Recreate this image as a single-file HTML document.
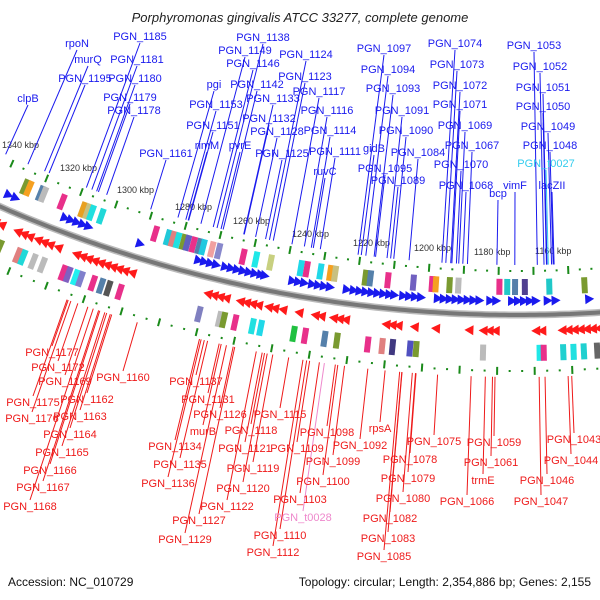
<!DOCTYPE html>
<html><head><meta charset="utf-8"><style>
html,body{margin:0;padding:0;background:#fff;}
svg{display:block;font-family:"Liberation Sans",sans-serif;}
</style></head><body>
<svg id="map" width="600" height="600" viewBox="0 0 600 600" xmlns="http://www.w3.org/2000/svg">
<text x="300" y="22" text-anchor="middle" font-size="13" font-style="italic" fill="#222">Porphyromonas gingivalis ATCC 33277, complete genome</text>
<g id="arcs"></g><g id="feat"></g><g id="lines"></g><g id="labels"></g>
<text x="8" y="586" font-size="12" fill="#111">Accession: NC_010729</text>
<text x="591" y="586" font-size="12" text-anchor="end" fill="#111">Topology: circular; Length: 2,354,886 bp; Genes: 2,155</text>
</svg>
<script>
const CX=518, CY=-976, R=1291;
const tickLabels=[["1340 kbp",2,148],["1320 kbp",60,171],["1300 kbp",117,193],["1280 kbp",175,210],["1260 kbp",233,224],["1240 kbp",292,237],["1220 kbp",353,246],["1200 kbp",414,251],["1180 kbp",474,255],["1160 kbp",535,254]];
const blueArrows=[3,10,60,66,72,78,84,136,195,201,207,213,222,228,234,240,246,252,258,262,290,296,302,310,316,322,328,345,352,358,364,370,376,382,388,393,402,408,414,420,437,443,449,455,461,467,473,479,490,496,512,518,524,530,536,548,556,590];
const redArrows=[2,8,24,30,36,44,50,56,64,82,88,94,100,106,112,118,124,130,137,212,218,224,230,244,250,256,262,272,278,286,302,318,324,336,342,348,388,394,400,416,437,470,484,490,496,536,542,562,568,574,580,586,592,598];
const boxesTop=[[14,"#7a9a30"],[18,"#f5a020"],[30,"#5580aa"],[33,"#bbb"],[52,"#e8308a"],[73,"#e8a020"],[78,"#c8c080"],[82,"#20e0e0"],[92,"#20d8d8"],[147,"#e8308a"],[160,"#20c8d8"],[165,"#e08080"],[170,"#20e0e0"],[176,"#7a9a30"],[180,"#6060c0"],[186,"#e8308a"],[192,"#5580aa"],[196,"#20c8e0"],[205,"#f0a0a0"],[212,"#8888cc"],[237,"#e8308a"],[250,"#20e8e8"],[265,"#c8d080"],[296,"#20d8e8"],[302,"#e8308a"],[316,"#20d8e8"],[326,"#f5a020"],[331,"#c8c080"],[362,"#7a9a30"],[367,"#5580aa"],[385,"#e8308a"],[411,"#7060c0"],[430,"#e8308a"],[434,"#f5a020"],[448,"#7a9a30"],[457,"#bbb"],[499,"#e8308a"],[507,"#20c8c8"],[515,"#5580aa"],[525,"#504090"],[550,"#20c8c8"],[586,"#7a9a30"]];
const boxesBot=[[14,"#7a9a30"],[32,"#e08080"],[37,"#20d8d8"],[47,"#bbb"],[56,"#bbb"],[76,"#e8308a"],[81,"#8060c0"],[88,"#20f0f0"],[93,"#8080cc"],[105,"#e8308a"],[113,"#5580aa"],[120,"#555"],[131,"#e8308a"],[208,"#8080c0"],[228,"#bbb"],[232,"#7a9a30"],[243,"#e8308a"],[260,"#20e0e0"],[268,"#20d8e8"],[300,"#20c040"],[311,"#e8308a"],[330,"#5580aa"],[342,"#7a9a30"],[372,"#e8308a"],[386,"#e08080"],[396,"#403880"],[413,"#5050c0"],[419,"#7a9a30"],[484,"#bbb"],[539,"#20e8e8"],[543,"#e8308a"],[562,"#20d0d0"],[572,"#20e0e0"],[582,"#20d0d0"],[595,"#666"]];
const blueLabels=[["rpoN",77,47],["murQ",88,63],["PGN_1195",85,82],["clpB",28,102],["PGN_1185",140,40],["PGN_1181",137,63],["PGN_1180",135,82],["PGN_1179",130,101],["PGN_1178",134,114],["PGN_1161",166,157],["PGN_1149",245,54],["PGN_1146",253,67],["PGN_1138",263,41],["pgi",214,88],["PGN_1142",257,88],["PGN_1153",216,108],["PGN_1133",273,102],["PGN_1151",213,129],["PGN_1132",269,122],["rimM",207,149],["pvrE",240,149],["PGN_1128",277,135],["PGN_1125",282,157],["PGN_1124",306,58],["PGN_1123",305,80],["PGN_1117",319,95],["PGN_1116",327,114],["PGN_1114",330,134],["PGN_1111",335,155],["ruvC",325,175],["PGN_1097",384,52],["PGN_1094",388,73],["PGN_1093",393,92],["PGN_1091",402,114],["PGN_1090",406,134],["gidB",374,152],["PGN_1095",385,172],["PGN_1089",398,184],["PGN_1084",418,156],["PGN_1074",455,47],["PGN_1073",457,68],["PGN_1072",460,89],["PGN_1071",460,108],["PGN_1069",465,129],["PGN_1067",472,149],["PGN_1070",461,168],["PGN_1068",466,189],["bcp",498,197],["vimF",515,189],["lacZII",552,189],["PGN_1053",534,49],["PGN_1052",540,70],["PGN_1051",543,91],["PGN_1050",543,110],["PGN_1049",548,130],["PGN_1048",550,149],["PGN_t0027",546,167]];
const redLabels=[["PGN_1177",52,356],["PGN_1172",58,371],["PGN_1169",65,385],["PGN_1160",123,381],["PGN_1175",33,406],["PGN_1162",87,403],["PGN_1176",32,422],["PGN_1163",80,420],["PGN_1164",70,438],["PGN_1165",62,456],["PGN_1166",50,474],["PGN_1167",43,491],["PGN_1168",30,510],["PGN_1137",196,385],["PGN_1131",208,403],["PGN_1126",220,418],["murB",203,435],["PGN_1115",280,418],["PGN_1118",251,434],["PGN_1134",175,450],["PGN_1121",245,452],["PGN_1109",297,452],["PGN_1098",327,436],["PGN_1099",333,465],["rpsA",380,432],["PGN_1092",360,449],["PGN_1075",434,445],["PGN_1135",180,468],["PGN_1119",253,472],["PGN_1100",323,485],["PGN_1136",168,487],["PGN_1120",243,492],["PGN_1103",300,503],["PGN_1122",227,510],["PGN_t0028",303,521],["PGN_1127",199,524],["PGN_1110",280,539],["PGN_1129",185,543],["PGN_1112",273,556],["PGN_1078",410,463],["PGN_1079",408,482],["PGN_1080",403,502],["PGN_1082",390,522],["PGN_1083",388,542],["PGN_1085",384,560],["PGN_1059",494,446],["PGN_1061",491,466],["trmE",483,484],["PGN_1066",467,505],["PGN_1043",574,443],["PGN_1044",571,464],["PGN_1046",547,484],["PGN_1047",541,505]];

const NS="http://www.w3.org/2000/svg";
function th(x){return Math.asin((x-CX)/R);}
function P(t,dr,u,v){
  const r=R+dr, c=Math.cos(t), s=Math.sin(t);
  return [CX+r*s+u*c+v*s, CY+r*c-u*s+v*c];
}
function mk(tag,par,attrs){const e=document.createElementNS(NS,tag);for(const k in attrs)e.setAttribute(k,attrs[k]);document.getElementById(par).appendChild(e);return e;}
let d="";for(let x=-30;x<=630;x+=5){const p=P(th(x),0,0,0);d+=(x==-30?"M":"L")+p[0].toFixed(1)+" "+p[1].toFixed(1);}
let e=mk("path","arcs",{d:d,fill:"none",stroke:"#bbb","stroke-width":7});


e=mk("path","arcs",{d:d,fill:"none",stroke:"#777","stroke-width":4});


[-44,56].forEach(dr=>{
  for(let x=-6,i=0;x<=606;x+=12,i++){const t=th(x);const big=i%3==0;
    const a=P(t,dr,0,big?-4:-1),b=P(t,dr,0,big?4:1);
    const l=mk("line","arcs",{x1:a[0],y1:a[1],x2:b[0],y2:b[1],stroke:"#1a8a1a","stroke-width":2});
    
    }
});
tickLabels.forEach(t=>{const el=mk("text","arcs",{x:t[1],y:t[2],"font-size":9,fill:"#333"});el.textContent=t[0];
  
  });
function poly(pts,fill,name){const el=mk("polygon","feat",{points:pts.map(p=>p[0].toFixed(1)+","+p[1].toFixed(1)).join(" "),fill:fill});
  
  }
blueArrows.forEach(x=>{const t=th(x);poly([P(t,-14,-4,-5),P(t,-14,-4,5),P(t,-14,5,0)],"#1a1aee","forward-gene");});
redArrows.forEach(x=>{const t=th(x);poly([P(t,16,4,-5),P(t,16,4,5),P(t,16,-5,0)],"#ff1a1a","reverse-gene");});
boxesTop.forEach(b=>{const t=th(b[0]);poly([P(t,-28,-3,-8),P(t,-28,3,-8),P(t,-28,3,8),P(t,-28,-3,8)],b[1],"feature-box");});
boxesBot.forEach(b=>{const t=th(b[0]);poly([P(t,38,-3,-8),P(t,38,3,-8),P(t,38,3,8),P(t,38,-3,8)],b[1],"feature-box");});
function lab(L,color,isBlue){
  L.forEach(l=>{const special=l[0].indexOf("t00")>=0;
    const col=special?(isBlue?"#33ccee":"#ee88cc"):color;
    const sx=l[1], sy=isBlue?l[2]+3:l[2]-10;
    const dx=sx-CX, dy=sy-CY, dist=Math.hypot(dx,dy), rr=isBlue?R-50:R+62;
    const ex=CX+dx/dist*rr, ey=CY+dy/dist*rr;
    const ln=mk("line","lines",{x1:sx,y1:sy,x2:ex,y2:ey,stroke:col,"stroke-width":1});
    
    
    const tx=mk("text","labels",{x:sx,y:l[2],"font-size":11,"text-anchor":"middle",fill:col});
    tx.textContent=l[0];
    
    });
}
lab(blueLabels,"#1a1aee",true);lab(redLabels,"#ee1a1a",false);
</script>
</body></html>
